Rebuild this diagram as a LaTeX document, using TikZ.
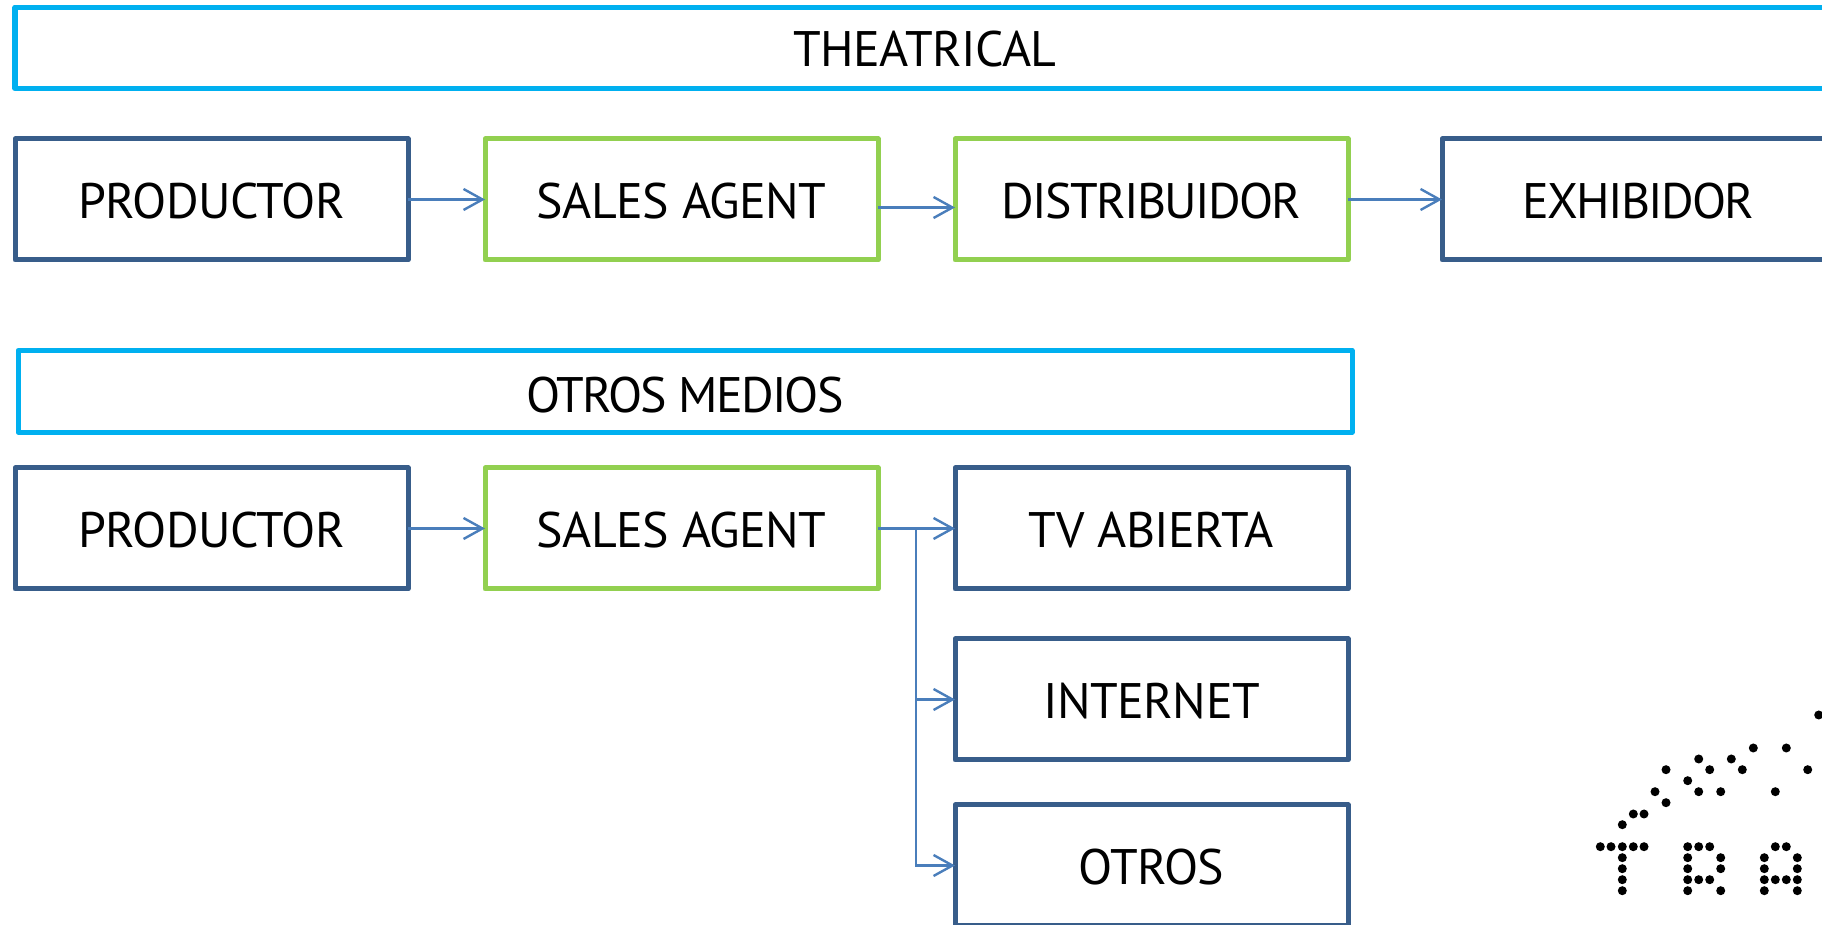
\documentclass[tikz,border=0pt]{standalone}
\usepackage{fontspec}
\setmainfont[LetterSpace=-1]{PT Sans}
\usetikzlibrary{arrows.meta}
\definecolor{mainblue}{HTML}{385D8A}
\definecolor{stepgreen}{HTML}{92D050}
\definecolor{headcyan}{HTML}{00B0F0}
\definecolor{flowblue}{HTML}{4A7EBB}
\tikzset{
  box/.style={draw, line width=.05cm, line join=round, outer sep=0pt, inner sep=0pt,
    text=black, font=\fontsize{14.2}{16}\selectfont, text height=.375cm, text depth=0pt,
    minimum width=3.93cm, minimum height=1.21cm},
  actor/.style={box, draw=mainblue},
  agent/.style={box, draw=stepgreen},
  header/.style={box, draw=headcyan, minimum height=.815cm},
  tight/.style={font=\fontsize{14.2}{16}\selectfont\addfontfeature{LetterSpace=-3.5}},
  flow/.style={draw=flowblue, line width=.024cm, -{Straight Barb[length=.19cm,width=.21cm]}},
  dot/.style={fill=black}
}
\begin{document}
\begin{tikzpicture}
      \useasboundingbox (0,0) rectangle (18.22,-9.25);
      %%%%%%%%%%%%%%%%%%%%%%%%%%%%%%%%%%%%%%%%%%%%%%%
      \node[header, minimum width=18.2cm] at (9.25,-.478) (theatrical) {THEATRICAL};
      %%%%%%%%%%%%%%%%%%%%%%%%%%%%%%%%%%%%%%%%%%%%%%%
      \node[actor] at (2.115,-1.995) (prod1) {PRODUCTOR};
      \node[agent] at (6.815,-1.995) (sales1) {SALES AGENT};
      \node[agent, tight] at (11.515,-1.995) (dist1) {DISTRIBUIDOR};
      \node[actor, tight] at (16.385,-1.995) (exhib1) {EXHIBIDOR};
      \draw[flow] (prod1) -- (sales1);
      \draw[flow] ([yshift=-.08cm]sales1.east) -- ([yshift=-.08cm]dist1.west);
      \draw[flow] (dist1) -- (exhib1);
      %%%%%%%%%%%%%%%%%%%%%%%%%%%%%%%%%%%%%%%%%%%%%%%
      \node[header, tight, minimum width=13.34cm, text height=.42cm] at (6.85,-3.913) (medios) {OTROS MEDIOS};
      %%%%%%%%%%%%%%%%%%%%%%%%%%%%%%%%%%%%%%%%%%%%%%%
      \node[actor] at (2.115,-5.285) (prod2) {PRODUCTOR};
      \node[agent] at (6.815,-5.285) (sales2) {SALES AGENT};
      \node[actor] at (11.515,-5.285) (tv) {TV ABIERTA};
      \node[actor] at (11.515,-6.995) (internet) {INTERNET};
      \node[actor] at (11.515,-8.655) (otros) {OTROS};
      \coordinate (trunk) at (9.16,-5.285);
      \draw[flow] (prod2) -- (sales2);
      \draw[flow] (sales2) -- (tv);
      \draw[flow] (trunk) |- (internet);
      \draw[flow] (trunk) |- (otros);
      %%%%%%%%%%%%%%%%%%%%%%%%%%%%%%%%%%%%%%%%%%%%%%%
      \fill[dot] (18.187,-7.15) circle (.045) (17.533,-7.48) circle (.045) (17.863,-7.48) circle (.045)
            (16.987,-7.59) circle (.045) (17.313,-7.59) circle (.045)
            (16.66,-7.697) circle (.045) (17.097,-7.697) circle (.045) (17.423,-7.697) circle (.045) (18.077,-7.697) circle (.045)
            (16.877,-7.807) circle (.045)
            (16.55,-7.917) circle (.045) (16.987,-7.917) circle (.045) (17.207,-7.917) circle (.045) (17.753,-7.917) circle (.045)
            (16.66,-8.027) circle (.045)
            (16.333,-8.14) circle (.045) (16.44,-8.14) circle (.045)
            (16.223,-8.247) circle (.045);
      % T
      \fill[dot] (16.003,-8.467) circle (.045) (16.11,-8.467) circle (.045) (16.223,-8.467) circle (.045) (16.333,-8.467) circle (.045) (16.44,-8.467) circle (.045)
            (16.223,-8.577) circle (.045) (16.223,-8.687) circle (.045) (16.223,-8.797) circle (.045) (16.223,-8.907) circle (.045);
      % R
      \fill[dot] (16.877,-8.467) circle (.045) (16.987,-8.467) circle (.045) (17.097,-8.467) circle (.045)
            (16.877,-8.577) circle (.045) (17.207,-8.577) circle (.045)
            (16.877,-8.687) circle (.045) (17.207,-8.687) circle (.045)
            (16.877,-8.797) circle (.045) (16.987,-8.797) circle (.045) (17.097,-8.797) circle (.045)
            (16.877,-8.907) circle (.045) (17.207,-8.907) circle (.045);
      % A
      \fill[dot] (17.753,-8.467) circle (.045) (17.863,-8.467) circle (.045)
            (17.643,-8.577) circle (.045) (17.973,-8.577) circle (.045)
            (17.643,-8.687) circle (.045) (17.973,-8.687) circle (.045)
            (17.643,-8.797) circle (.045) (17.753,-8.797) circle (.045) (17.863,-8.797) circle (.045) (17.973,-8.797) circle (.045)
            (17.643,-8.907) circle (.045) (17.973,-8.907) circle (.045);
      %%%%%%%%%%%%%%%%%%%%%%%%%%%%%%%%%%%%%%%%%%%%%%%
    \end{tikzpicture}
\end{document}
